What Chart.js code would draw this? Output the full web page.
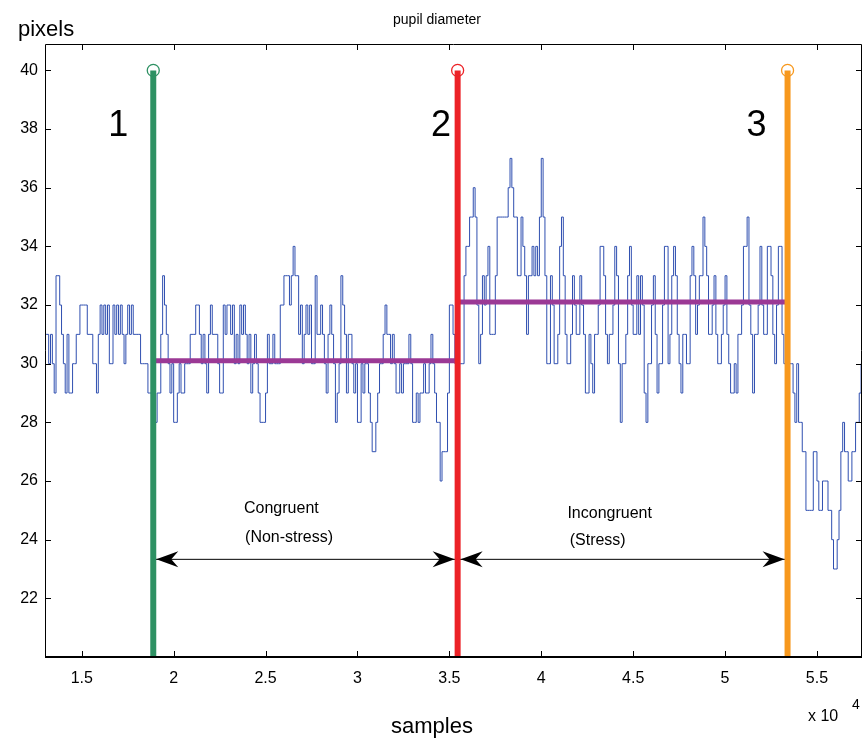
<!DOCTYPE html>
<html>
<head>
<meta charset="utf-8">
<script src="https://cdn.jsdelivr.net/npm/chart.js@4/dist/chart.umd.min.js"></script>
<style>
  html, body { margin: 0; padding: 0; background: #fff; }
  #wrap { width: 864px; height: 742px; }
</style>
</head>
<body>
<div id="wrap"><canvas id="pupilChart"></canvas></div>
<script>
// samples axis is in units of 10^4, one reading every 0.01
const sampleStart = 1.30
const sampleStep = 0.01

// pupil diameter (pixels)
const pupil = [
    31, 31, 30, 31, 30, 29, 33, 33, 32, 31,
    30, 29, 31, 29, 29, 30, 30, 31, 31, 32,
    32, 32, 32, 31, 31, 31, 30, 30, 29, 31,
    32, 31, 32, 31, 32, 30, 30, 32, 31, 32,
    31, 32, 31, 30, 31, 32, 31, 32, 31, 31,
    31, 31, 30, 30, 30, 30, 29, 29, 29, 28,
    28, 29, 29, 31, 33, 32, 31, 30, 29, 30,
    28, 28, 29, 30, 29, 29, 30, 30, 30, 31,
    31, 31, 32, 32, 31, 30, 31, 30, 29, 31,
    32, 31, 31, 31, 30, 29, 29, 32, 31, 32,
    32, 31, 32, 30, 31, 30, 32, 31, 32, 31,
    30, 31, 29, 30, 31, 30, 29, 28, 28, 28,
    29, 31, 30, 30, 31, 30, 30, 30, 32, 32,
    33, 33, 33, 32, 33, 34, 33, 33, 31, 32,
    30, 31, 32, 31, 32, 30, 30, 33, 31, 31,
    32, 31, 30, 29, 31, 32, 31, 30, 28, 29,
    30, 33, 32, 31, 29, 31, 31, 30, 29, 30,
    28, 28, 30, 29, 30, 30, 29, 28, 27, 27,
    28, 29, 30, 30, 31, 32, 31, 31, 30, 31,
    30, 29, 29, 30, 29, 30, 30, 30, 31, 30,
    28, 28, 29, 28, 29, 29, 30, 29, 29, 30,
    31, 30, 29, 28, 28, 26, 27, 27, 27, 29,
    32, 32, 31, 30, 30, 30, 30, 30, 33, 34,
    34, 35, 35, 36, 35, 32, 30, 31, 33, 32,
    33, 34, 31, 31, 31, 33, 35, 35, 35, 35,
    35, 35, 36, 37, 36, 35, 35, 33, 33, 35,
    34, 33, 31, 33, 33, 34, 33, 34, 33, 35,
    37, 35, 33, 30, 30, 33, 32, 30, 30, 31,
    34, 35, 33, 31, 30, 30, 31, 33, 32, 31,
    31, 33, 32, 31, 29, 29, 31, 30, 29, 31,
    31, 32, 34, 34, 33, 31, 30, 31, 31, 32,
    34, 33, 30, 28, 30, 30, 31, 33, 34, 32,
    31, 31, 33, 31, 33, 32, 29, 28, 30, 30,
    32, 33, 31, 29, 30, 30, 32, 34, 34, 30,
    31, 33, 34, 33, 31, 30, 29, 31, 31, 30,
    30, 33, 34, 33, 31, 32, 33, 33, 35, 34,
    33, 31, 31, 32, 33, 31, 30, 30, 31, 32,
    33, 31, 30, 29, 29, 30, 29, 31, 31, 32,
    34, 34, 35, 32, 31, 29, 31, 31, 32, 34,
    32, 31, 31, 34, 34, 33, 31, 30, 32, 34,
    34, 31, 30, 31, 30, 30, 30, 29, 28, 30,
    28, 28, 27, 27, 25, 25, 25, 25, 27, 27,
    26, 25, 25, 26, 26, 26, 25, 25, 24, 23,
    23, 24, 25, 27, 28, 27, 27, 26, 26, 27,
    27, 28, 28, 29, 30
]

// event markers 1, 2, 3
const eventSamples = [1.889, 3.545, 5.34]
const eventNames = ['1', '2', '3']
const eventColors = ['#2e9163', '#ec2227', '#f7981d']
const eventLow = 20
const eventHigh = 40

// mean level in each phase
const meanLevels = [30.1, 32.1]
const phaseNames = [['Congruent', '(Non-stress)'], ['Incongruent', '(Stress)']]
const arrowLevel = 23.33

const xTicks = [1.5, 2, 2.5, 3, 3.5, 4, 4.5, 5, 5.5]
const yTicks = [22, 24, 26, 28, 30, 32, 34, 36, 38, 40]

const FONT = '"Liberation Sans", Arial, sans-serif'

const traceData = pupil.map((v, i) => ({ x: sampleStart + i * sampleStep, y: v }))

const eventSets = eventSamples.map((s, i) => ({
    data: [{ x: s, y: eventLow }, { x: s, y: eventHigh }],
    borderColor: eventColors[i],
    borderWidth: 6,
    pointRadius: [0, 6],
    pointBorderWidth: 1.3,
    pointBorderColor: eventColors[i],
    pointBackgroundColor: 'rgba(0,0,0,0)',
    order: 0
}))

const meanSets = meanLevels.map((m, i) => ({
    data: [{ x: eventSamples[i], y: m }, { x: eventSamples[i + 1], y: m }],
    borderColor: '#9b3995',
    borderWidth: 5,
    pointRadius: 0,
    order: 1
}))

const arrowSets = [0, 1].map(i => ({
    data: [{ x: eventSamples[i], y: arrowLevel }, { x: eventSamples[i + 1], y: arrowLevel }],
    borderColor: '#000',
    borderWidth: 1,
    pointRadius: 0,
    order: 2
}))

// inward ticks and box, like the original plot
const framePlugin = {
    id: 'frame',
    afterDatasetsDraw(chart) {
        const { ctx, chartArea: a, scales: { x, y } } = chart
        ctx.save()
        ctx.strokeStyle = '#000'
        ctx.lineWidth = 1
        ctx.beginPath()
        ctx.moveTo(a.left + 0.5, a.bottom)
        ctx.lineTo(a.left + 0.5, a.top + 0.5)
        ctx.lineTo(a.right - 0.5, a.top + 0.5)
        ctx.lineTo(a.right - 0.5, a.bottom)
        ctx.stroke()
        ctx.lineWidth = 2
        ctx.beginPath()
        ctx.moveTo(a.left, a.bottom)
        ctx.lineTo(a.right, a.bottom)
        ctx.stroke()
        ctx.lineWidth = 1
        ctx.beginPath()
        xTicks.forEach(v => {
            const px = Math.round(x.getPixelForValue(v)) + 0.5
            ctx.moveTo(px, a.bottom); ctx.lineTo(px, a.bottom - 6)
            ctx.moveTo(px, a.top); ctx.lineTo(px, a.top + 6)
        })
        yTicks.forEach(v => {
            const py = Math.round(y.getPixelForValue(v)) + 0.5
            ctx.moveTo(a.left, py); ctx.lineTo(a.left + 6, py)
            ctx.moveTo(a.right, py); ctx.lineTo(a.right - 6, py)
        })
        ctx.stroke()
        ctx.restore()
    }
}

// arrowheads and text labels
const notesPlugin = {
    id: 'notes',
    afterDatasetsDraw(chart) {
        const { ctx, scales: { x, y } } = chart
        ctx.save()

        const head = (px, py, dir) => {
            ctx.beginPath()
            ctx.moveTo(px, py)
            ctx.lineTo(px - dir * 22, py - 8)
            ctx.lineTo(px - dir * 15, py)
            ctx.lineTo(px - dir * 22, py + 8)
            ctx.closePath()
            ctx.fill()
        }
        ctx.fillStyle = '#000'
        const ay = y.getPixelForValue(arrowLevel)
        for (let i = 0; i < 2; i++) {
            const x1 = x.getPixelForValue(eventSamples[i]) + 3
            const x2 = x.getPixelForValue(eventSamples[i + 1]) - 3
            head(x1, ay, -1)
            head(x2, ay, 1)
        }

        ctx.textAlign = 'center'
        ctx.textBaseline = 'middle'
        ctx.font = '36px ' + FONT
        const numPos = [1.698, 3.454, 5.171]
        eventNames.forEach((n, i) => {
            ctx.fillText(n, x.getPixelForValue(numPos[i]), y.getPixelForValue(38.09))
        })

        ctx.font = '16px ' + FONT
        const phasePos = [[[2.586, 25.07], [2.628, 24.08]], [[4.372, 24.9], [4.307, 23.98]]]
        phaseNames.forEach((lines, i) => {
            lines.forEach((t, j) => {
                ctx.fillText(t, x.getPixelForValue(phasePos[i][j][0]), y.getPixelForValue(phasePos[i][j][1]))
            })
        })

        ctx.font = '14px ' + FONT
        ctx.fillText('pupil diameter', 437, 20)

        ctx.font = '22px ' + FONT
        ctx.fillText('samples', 432, 727)
        ctx.textAlign = 'left'
        ctx.fillText('pixels', 18, 30)

        ctx.font = '16px ' + FONT
        ctx.fillText('x 10', 808, 717)
        ctx.font = '14px ' + FONT
        ctx.fillText('4', 852, 705)
        ctx.restore()
    }
}

new Chart(document.getElementById('pupilChart').getContext('2d'), {
    type: 'line',
    data: {
        datasets: [
            ...eventSets,
            ...meanSets,
            ...arrowSets,
            {
                label: 'pupil diameter',
                data: traceData,
                borderColor: '#2f4fb0',
                borderWidth: 1,
                pointRadius: 0,
                stepped: true,
                order: 3
            }
        ]
    },
    options: {
        responsive: true,
        maintainAspectRatio: false,
        animation: false,
        layout: { autoPadding: false, padding: { top: 44, right: 2, left: 0, bottom: 0 } },
        plugins: {
            legend: { display: false },
            tooltip: { enabled: false },
            title: { display: false }
        },
        scales: {
            x: {
                type: 'linear',
                min: 1.3,
                max: 5.745,
                afterBuildTicks: s => { s.ticks = xTicks.map(v => ({ value: v })) },
                afterFit: s => { s.height = 85 },
                grid: { display: false, drawTicks: false },
                border: { display: false },
                ticks: {
                    padding: 12,
                    maxRotation: 0,
                    color: '#000',
                    font: { family: FONT, size: 16 },
                    callback: v => String(v)
                }
            },
            y: {
                min: 20,
                max: 40.9,
                afterBuildTicks: s => { s.ticks = yTicks.map(v => ({ value: v })) },
                afterFit: s => { s.width = 45 },
                grid: { display: false, drawTicks: false },
                border: { display: false },
                ticks: {
                    padding: 7,
                    color: '#000',
                    font: { family: FONT, size: 16 },
                    callback: v => String(v)
                }
            }
        }
    },
    plugins: [framePlugin, notesPlugin]
})
</script>
</body>
</html>
